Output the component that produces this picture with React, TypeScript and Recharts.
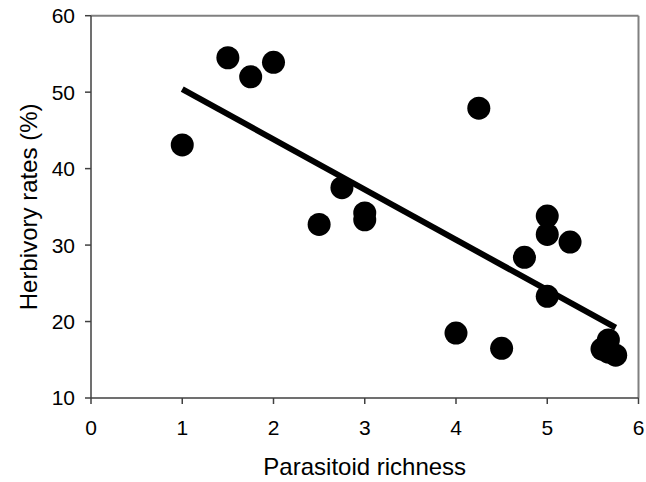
import React from 'react';
import { ScatterChart, Scatter, XAxis, YAxis, ReferenceLine } from 'recharts';

const richness = [1, 1.5, 1.75, 2, 2.5, 2.75, 3, 3, 4, 4.25, 4.5, 4.75, 5, 5, 5, 5.25, 5.6, 5.67, 5.67, 5.75];
const herbivory = [43.1, 54.5, 52.0, 53.9, 32.7, 37.5, 34.2, 33.3, 18.5, 47.9, 16.5, 28.4, 33.8, 31.4, 23.3, 30.4, 16.4, 17.6, 16.0, 15.6];

const fitX = [1, 5.75];
const fitY = [50.4, 19.2];

const xTicks = [0, 1, 2, 3, 4, 5, 6];
const yTicks = [10, 20, 30, 40, 50, 60];

const points = richness.map((x, i) => ({ x, y: herbivory[i] }));
const fitLine = fitX.map((x, i) => ({ x, y: fitY[i] }));

const FONT = '"Liberation Sans", Arial, sans-serif';

const Dot = (props: any) => <circle cx={props.cx} cy={props.cy} r={11.5} fill="#000" />;
const NoDot = () => null;

const XLabel = (props: any) => {
  const vb = props.viewBox || { x: 91, y: 398, width: 547.5, height: 84 };
  return (
    <text x={vb.x + vb.width / 2} y={vb.y + 77} textAnchor="middle" fontSize={24} fontFamily={FONT} fill="#000">
      Parasitoid richness
    </text>
  );
};

const YLabel = (props: any) => {
  const vb = props.viewBox || { x: 0, y: 15.7, width: 91, height: 382.3 };
  const cx = vb.x + 28.5;
  const cy = vb.y + vb.height / 2;
  return (
    <text x={cx} y={cy} transform={`rotate(-90, ${cx}, ${cy})`} textAnchor="middle" dominantBaseline="central" fontSize={24} fontFamily={FONT} fill="#000">
      Herbivory rates (%)
    </text>
  );
};

export default function App() {
  return (
    <div style={{ position: 'absolute', left: 0, top: 0, width: 646, height: 482 }}>
      <ScatterChart width={646} height={482} margin={{ top: 15.7, right: 7.5, left: 0, bottom: 0 }}>
        <XAxis
          type="number"
          dataKey="x"
          domain={[0, 6]}
          ticks={xTicks}
          allowDataOverflow
          height={84}
          tickSize={6}
          tickMargin={16}
          axisLine={{ stroke: '#404040', strokeWidth: 1.5 }}
          tickLine={{ stroke: '#404040', strokeWidth: 1.5 }}
          tick={{ fill: '#000', fontSize: 21, fontFamily: FONT }}
          label={XLabel}
        />
        <YAxis
          type="number"
          dataKey="y"
          domain={[10, 60]}
          ticks={yTicks}
          allowDataOverflow
          width={91}
          tickSize={6}
          tickMargin={10}
          axisLine={{ stroke: '#404040', strokeWidth: 1.5 }}
          tickLine={{ stroke: '#404040', strokeWidth: 1.5 }}
          tick={{ fill: '#000', fontSize: 21, fontFamily: FONT }}
          label={YLabel}
        />
        <ReferenceLine y={60} stroke="#808080" strokeWidth={2} />
        <ReferenceLine x={6} stroke="#808080" strokeWidth={2} />
        <Scatter data={fitLine} line={{ stroke: '#000', strokeWidth: 6 }} shape={NoDot} isAnimationActive={false} />
        <Scatter data={points} shape={Dot} isAnimationActive={false} />
      </ScatterChart>
    </div>
  );
}
